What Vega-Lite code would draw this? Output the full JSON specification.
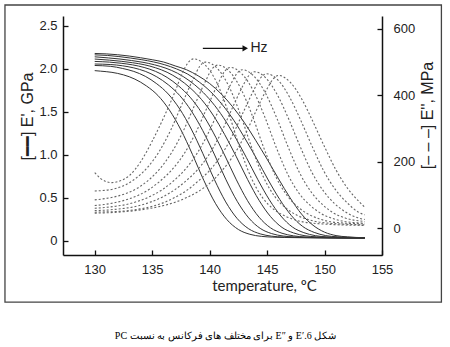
{
"$schema": "https://vega.github.io/schema/vega-lite/v6.json",
"width": 319, "height": 239,
"autosize": {"type": "none"},
"padding": {"left": 63, "top": 16, "right": 68, "bottom": 92},
"background": "white",
"config": {
 "view": {"stroke": null},
 "axis": {"grid": false, "domainColor": "#111", "domainWidth": 1.5, "tickColor": "#111", "tickWidth": 1.3, "tickSize": -5,
  "labelFont": "Liberation Sans", "labelFontSize": 13, "labelColor": "#222", "labelFlush": false,
  "titleFont": "Liberation Sans", "titleFontSize": 16, "titleFontWeight": "normal", "titleColor": "#222"}
},
"title": {"text": "PC برای مختلف های فرکانس به نسبت E″ و E′.6 شکل", "orient": "bottom", "anchor": "middle", "font": "Liberation Serif", "fontSize": 10, "fontWeight": "normal", "color": "#000", "offset": 28, "baseline": "top", "dx": 3},
"datasets": {
"ep": [
{"f":0,"T":130,"v":1.98},{"f":0,"T":130.5,"v":1.974},{"f":0,"T":131.5,"v":1.96},{"f":0,"T":132.5,"v":1.931},{"f":0,"T":133.5,"v":1.881},{"f":0,"T":134.5,"v":1.802},{"f":0,"T":135.5,"v":1.691},{"f":0,"T":136.5,"v":1.521},{"f":0,"T":137.5,"v":1.291},{"f":0,"T":138.5,"v":1.006},{"f":0,"T":139.5,"v":0.701},{"f":0,"T":140.5,"v":0.436},{"f":0,"T":141.5,"v":0.246},{"f":0,"T":142.5,"v":0.131},{"f":0,"T":143.5,"v":0.075},{"f":0,"T":144.5,"v":0.051},{"f":0,"T":145.5,"v":0.042},{"f":0,"T":146.5,"v":0.038},{"f":0,"T":148.5,"v":0.034},{"f":0,"T":153.5,"v":0.03},
{"f":1,"T":130,"v":2.04},{"f":1,"T":131.4,"v":2.03},{"f":1,"T":132.4,"v":2.006},{"f":1,"T":133.4,"v":1.971},{"f":1,"T":134.4,"v":1.914},{"f":1,"T":135.4,"v":1.827},{"f":1,"T":136.4,"v":1.708},{"f":1,"T":137.4,"v":1.533},{"f":1,"T":138.4,"v":1.3},{"f":1,"T":139.4,"v":1.018},{"f":1,"T":140.4,"v":0.716},{"f":1,"T":141.4,"v":0.452},{"f":1,"T":142.4,"v":0.258},{"f":1,"T":143.4,"v":0.139},{"f":1,"T":144.4,"v":0.08},{"f":1,"T":145.4,"v":0.053},{"f":1,"T":146.4,"v":0.043},{"f":1,"T":148.4,"v":0.037},{"f":1,"T":153.5,"v":0.031},
{"f":2,"T":130,"v":2.057},{"f":2,"T":131.4,"v":2.051},{"f":2,"T":132.4,"v":2.037},{"f":2,"T":133.4,"v":2.012},{"f":2,"T":134.4,"v":1.972},{"f":2,"T":135.4,"v":1.908},{"f":2,"T":136.4,"v":1.816},{"f":2,"T":137.4,"v":1.69},{"f":2,"T":138.4,"v":1.513},{"f":2,"T":139.4,"v":1.282},{"f":2,"T":140.4,"v":1.009},{"f":2,"T":141.4,"v":0.717},{"f":2,"T":142.4,"v":0.459},{"f":2,"T":143.4,"v":0.266},{"f":2,"T":144.4,"v":0.144},{"f":2,"T":145.4,"v":0.083},{"f":2,"T":146.4,"v":0.055},{"f":2,"T":147.4,"v":0.044},{"f":2,"T":149.4,"v":0.036},{"f":2,"T":153.5,"v":0.031},
{"f":3,"T":130,"v":2.087},{"f":3,"T":131.3,"v":2.079},{"f":3,"T":132.3,"v":2.066},{"f":3,"T":133.3,"v":2.047},{"f":3,"T":134.3,"v":2.017},{"f":3,"T":135.3,"v":1.971},{"f":3,"T":136.3,"v":1.901},{"f":3,"T":137.3,"v":1.802},{"f":3,"T":138.3,"v":1.671},{"f":3,"T":139.3,"v":1.492},{"f":3,"T":140.3,"v":1.264},{"f":3,"T":141.3,"v":0.998},{"f":3,"T":142.3,"v":0.717},{"f":3,"T":143.3,"v":0.466},{"f":3,"T":144.3,"v":0.274},{"f":3,"T":145.3,"v":0.15},{"f":3,"T":146.3,"v":0.087},{"f":3,"T":147.3,"v":0.057},{"f":3,"T":148.3,"v":0.044},{"f":3,"T":150.3,"v":0.036},{"f":3,"T":153.5,"v":0.032},
{"f":4,"T":130,"v":2.115},{"f":4,"T":131.3,"v":2.102},{"f":4,"T":132.3,"v":2.089},{"f":4,"T":133.3,"v":2.072},{"f":4,"T":134.3,"v":2.049},{"f":4,"T":135.3,"v":2.013},{"f":4,"T":136.3,"v":1.961},{"f":4,"T":137.3,"v":1.884},{"f":4,"T":138.3,"v":1.78},{"f":4,"T":139.3,"v":1.643},{"f":4,"T":140.3,"v":1.463},{"f":4,"T":141.3,"v":1.238},{"f":4,"T":142.3,"v":0.984},{"f":4,"T":143.3,"v":0.714},{"f":4,"T":144.3,"v":0.471},{"f":4,"T":145.3,"v":0.281},{"f":4,"T":146.3,"v":0.155},{"f":4,"T":147.3,"v":0.091},{"f":4,"T":148.3,"v":0.058},{"f":4,"T":149.3,"v":0.045},{"f":4,"T":151.3,"v":0.036},{"f":4,"T":153.5,"v":0.033},
{"f":5,"T":130,"v":2.141},{"f":5,"T":131.2,"v":2.128},{"f":5,"T":132.2,"v":2.115},{"f":5,"T":133.2,"v":2.098},{"f":5,"T":134.2,"v":2.077},{"f":5,"T":135.2,"v":2.048},{"f":5,"T":136.2,"v":2.008},{"f":5,"T":137.2,"v":1.95},{"f":5,"T":138.2,"v":1.866},{"f":5,"T":139.2,"v":1.757},{"f":5,"T":140.2,"v":1.614},{"f":5,"T":141.2,"v":1.433},{"f":5,"T":142.2,"v":1.212},{"f":5,"T":143.2,"v":0.968},{"f":5,"T":144.2,"v":0.71},{"f":5,"T":145.2,"v":0.476},{"f":5,"T":146.2,"v":0.288},{"f":5,"T":147.2,"v":0.16},{"f":5,"T":148.2,"v":0.094},{"f":5,"T":149.2,"v":0.059},{"f":5,"T":150.2,"v":0.045},{"f":5,"T":152.2,"v":0.036},{"f":5,"T":153.5,"v":0.034},
{"f":6,"T":130,"v":2.164},{"f":6,"T":131.1,"v":2.157},{"f":6,"T":132.1,"v":2.144},{"f":6,"T":133.1,"v":2.127},{"f":6,"T":134.1,"v":2.107},{"f":6,"T":135.1,"v":2.082},{"f":6,"T":136.1,"v":2.048},{"f":6,"T":137.1,"v":2.001},{"f":6,"T":138.1,"v":1.939},{"f":6,"T":139.1,"v":1.847},{"f":6,"T":140.1,"v":1.733},{"f":6,"T":141.1,"v":1.584},{"f":6,"T":142.1,"v":1.403},{"f":6,"T":143.1,"v":1.185},{"f":6,"T":144.1,"v":0.952},{"f":6,"T":145.1,"v":0.707},{"f":6,"T":146.1,"v":0.481},{"f":6,"T":147.1,"v":0.295},{"f":6,"T":148.1,"v":0.166},{"f":6,"T":149.1,"v":0.097},{"f":6,"T":150.1,"v":0.06},{"f":6,"T":151.1,"v":0.046},{"f":6,"T":153.5,"v":0.035},
{"f":7,"T":130,"v":2.18},{"f":7,"T":131,"v":2.175},{"f":7,"T":132,"v":2.165},{"f":7,"T":133,"v":2.15},{"f":7,"T":134,"v":2.13},{"f":7,"T":135,"v":2.107},{"f":7,"T":136,"v":2.08},{"f":7,"T":137,"v":2.035},{"f":7,"T":138,"v":1.99},{"f":7,"T":139,"v":1.92},{"f":7,"T":140,"v":1.83},{"f":7,"T":141,"v":1.71},{"f":7,"T":142,"v":1.56},{"f":7,"T":143,"v":1.38},{"f":7,"T":144,"v":1.17},{"f":7,"T":145,"v":0.95},{"f":7,"T":146,"v":0.72},{"f":7,"T":147,"v":0.5},{"f":7,"T":148,"v":0.31},{"f":7,"T":149,"v":0.18},{"f":7,"T":150,"v":0.1},{"f":7,"T":151,"v":0.06},{"f":7,"T":152,"v":0.045},{"f":7,"T":153.5,"v":0.035}
],
"epp": [
{"f":0,"T":130,"v":167},{"f":0,"T":130.5,"v":150},{"f":0,"T":131,"v":140},{"f":0,"T":131.5,"v":137},{"f":0,"T":132,"v":140},{"f":0,"T":133,"v":158},{"f":0,"T":134,"v":200},{"f":0,"T":135,"v":262},{"f":0,"T":136,"v":333},{"f":0,"T":137,"v":412},{"f":0,"T":137.6,"v":465},{"f":0,"T":138.1,"v":497},{"f":0,"T":138.6,"v":510},{"f":0,"T":139.1,"v":505},{"f":0,"T":139.6,"v":492},{"f":0,"T":140.6,"v":440},{"f":0,"T":141.6,"v":352},{"f":0,"T":142.6,"v":245},{"f":0,"T":143.6,"v":153},{"f":0,"T":144.6,"v":92},{"f":0,"T":145.6,"v":56},{"f":0,"T":146.6,"v":36},{"f":0,"T":147.6,"v":23},{"f":0,"T":149.6,"v":13},{"f":0,"T":153.5,"v":8},
{"f":1,"T":130,"v":112},{"f":1,"T":130.65,"v":113},{"f":1,"T":131.65,"v":118},{"f":1,"T":132.65,"v":130},{"f":1,"T":133.65,"v":152},{"f":1,"T":134.65,"v":185},{"f":1,"T":135.65,"v":233},{"f":1,"T":136.65,"v":298},{"f":1,"T":137.65,"v":378},{"f":1,"T":138.65,"v":455},{"f":1,"T":139.15,"v":488},{"f":1,"T":139.65,"v":500},{"f":1,"T":140.65,"v":482},{"f":1,"T":141.65,"v":429},{"f":1,"T":142.65,"v":345},{"f":1,"T":143.65,"v":244},{"f":1,"T":144.65,"v":156},{"f":1,"T":145.65,"v":96},{"f":1,"T":146.65,"v":60},{"f":1,"T":147.65,"v":38},{"f":1,"T":148.65,"v":25},{"f":1,"T":150.65,"v":14},{"f":1,"T":153.5,"v":10},
{"f":2,"T":130,"v":85},{"f":2,"T":130.7,"v":88},{"f":2,"T":131.7,"v":94},{"f":2,"T":132.7,"v":104},{"f":2,"T":133.7,"v":120},{"f":2,"T":134.7,"v":145},{"f":2,"T":135.7,"v":180},{"f":2,"T":136.7,"v":228},{"f":2,"T":137.7,"v":292},{"f":2,"T":138.7,"v":371},{"f":2,"T":139.7,"v":447},{"f":2,"T":140.2,"v":479},{"f":2,"T":140.7,"v":491},{"f":2,"T":141.7,"v":473},{"f":2,"T":142.7,"v":421},{"f":2,"T":143.7,"v":340},{"f":2,"T":144.7,"v":243},{"f":2,"T":145.7,"v":159},{"f":2,"T":146.7,"v":100},{"f":2,"T":147.7,"v":63},{"f":2,"T":148.7,"v":40},{"f":2,"T":149.7,"v":26},{"f":2,"T":151.7,"v":15},{"f":2,"T":153.5,"v":13},
{"f":3,"T":130,"v":68},{"f":3,"T":130.8,"v":71},{"f":3,"T":131.8,"v":77},{"f":3,"T":132.8,"v":86},{"f":3,"T":133.8,"v":99},{"f":3,"T":134.8,"v":118},{"f":3,"T":135.8,"v":145},{"f":3,"T":136.8,"v":179},{"f":3,"T":137.8,"v":225},{"f":3,"T":138.8,"v":288},{"f":3,"T":139.8,"v":365},{"f":3,"T":140.8,"v":440},{"f":3,"T":141.3,"v":472},{"f":3,"T":141.8,"v":484},{"f":3,"T":142.8,"v":465},{"f":3,"T":143.8,"v":414},{"f":3,"T":144.8,"v":335},{"f":3,"T":145.8,"v":243},{"f":3,"T":146.8,"v":162},{"f":3,"T":147.8,"v":104},{"f":3,"T":148.8,"v":67},{"f":3,"T":149.8,"v":42},{"f":3,"T":150.8,"v":28},{"f":3,"T":152.8,"v":16},{"f":3,"T":153.5,"v":15},
{"f":4,"T":130,"v":60},{"f":4,"T":130.85,"v":62},{"f":4,"T":131.85,"v":66},{"f":4,"T":132.85,"v":72},{"f":4,"T":133.85,"v":82},{"f":4,"T":134.85,"v":96},{"f":4,"T":135.85,"v":115},{"f":4,"T":136.85,"v":142},{"f":4,"T":137.85,"v":176},{"f":4,"T":138.85,"v":222},{"f":4,"T":139.85,"v":284},{"f":4,"T":140.85,"v":360},{"f":4,"T":141.85,"v":434},{"f":4,"T":142.35,"v":465},{"f":4,"T":142.85,"v":477},{"f":4,"T":143.85,"v":458},{"f":4,"T":144.85,"v":407},{"f":4,"T":145.85,"v":331},{"f":4,"T":146.85,"v":243},{"f":4,"T":147.85,"v":165},{"f":4,"T":148.85,"v":108},{"f":4,"T":149.85,"v":70},{"f":4,"T":150.85,"v":44},{"f":4,"T":151.85,"v":30},{"f":4,"T":153.5,"v":20},
{"f":5,"T":130,"v":53},{"f":5,"T":130.9,"v":54},{"f":5,"T":131.9,"v":57},{"f":5,"T":132.9,"v":61},{"f":5,"T":133.9,"v":68},{"f":5,"T":134.9,"v":79},{"f":5,"T":135.9,"v":94},{"f":5,"T":136.9,"v":114},{"f":5,"T":137.9,"v":141},{"f":5,"T":138.9,"v":174},{"f":5,"T":139.9,"v":219},{"f":5,"T":140.9,"v":280},{"f":5,"T":141.9,"v":356},{"f":5,"T":142.9,"v":429},{"f":5,"T":143.4,"v":459},{"f":5,"T":143.9,"v":471},{"f":5,"T":144.9,"v":452},{"f":5,"T":145.9,"v":401},{"f":5,"T":146.9,"v":327},{"f":5,"T":147.9,"v":244},{"f":5,"T":148.9,"v":168},{"f":5,"T":149.9,"v":112},{"f":5,"T":150.9,"v":73},{"f":5,"T":151.9,"v":47},{"f":5,"T":152.9,"v":31},{"f":5,"T":153.5,"v":26},
{"f":6,"T":130,"v":48},{"f":6,"T":130.95,"v":49},{"f":6,"T":131.95,"v":50},{"f":6,"T":132.95,"v":53},{"f":6,"T":133.95,"v":58},{"f":6,"T":134.95,"v":65},{"f":6,"T":135.95,"v":76},{"f":6,"T":136.95,"v":92},{"f":6,"T":137.95,"v":112},{"f":6,"T":138.95,"v":140},{"f":6,"T":139.95,"v":172},{"f":6,"T":140.95,"v":216},{"f":6,"T":141.95,"v":277},{"f":6,"T":142.95,"v":351},{"f":6,"T":143.95,"v":423},{"f":6,"T":144.45,"v":453},{"f":6,"T":144.95,"v":465},{"f":6,"T":145.95,"v":446},{"f":6,"T":146.95,"v":395},{"f":6,"T":147.95,"v":323},{"f":6,"T":148.95,"v":244},{"f":6,"T":149.95,"v":171},{"f":6,"T":150.95,"v":116},{"f":6,"T":151.95,"v":77},{"f":6,"T":152.95,"v":48},{"f":6,"T":153.5,"v":40},
{"f":7,"T":130,"v":45},{"f":7,"T":132,"v":48},{"f":7,"T":134,"v":55},{"f":7,"T":136,"v":68},{"f":7,"T":137,"v":78},{"f":7,"T":138,"v":92},{"f":7,"T":139,"v":110},{"f":7,"T":140,"v":135},{"f":7,"T":141,"v":170},{"f":7,"T":142,"v":215},{"f":7,"T":143,"v":275},{"f":7,"T":144,"v":350},{"f":7,"T":145,"v":420},{"f":7,"T":145.5,"v":448},{"f":7,"T":146,"v":460},{"f":7,"T":147,"v":440},{"f":7,"T":148,"v":390},{"f":7,"T":149,"v":320},{"f":7,"T":150,"v":245},{"f":7,"T":151,"v":175},{"f":7,"T":152,"v":120},{"f":7,"T":153,"v":80},{"f":7,"T":153.5,"v":63}
]
},
"layer": [
 {"layer": [
  {"data": {"name": "ep"},
   "mark": {"type": "line", "interpolate": "monotone", "color": "#333", "strokeWidth": 1},
   "encoding": {
    "x": {"field": "T", "type": "quantitative", "scale": {"domain": [127.24, 155], "nice": false, "zero": false},
      "axis": {"values": [130,135,140,145,150,155], "format": "d", "labelPadding": 13, "title": "temperature, ºC", "titleFont": "Lato", "titleFontSize": 15, "titleX": 201, "titleY": 23, "titleAlign": "center", "titleBaseline": "top"}},
    "y": {"field": "v", "type": "quantitative", "scale": {"domain": [-0.166, 2.616], "nice": false, "zero": false},
      "axis": {"values": [0,0.5,1,1.5,2,2.5], "labelExpr": "datum.value == 0 ? '0' : format(datum.value, '.1f')", "labelPadding": 11, "title": "[━━] E', GPa", "titleX": -36, "titleY": 100, "titleAngle": -90, "titleAlign": "center", "titleBaseline": "middle"}},
    "detail": {"field": "f"}
   }},
  {"data": {"values": [{}]},
   "mark": {"type": "rect", "fill": null, "stroke": "#444", "strokeWidth": 1.3, "clip": false},
   "encoding": {
    "x": {"datum": 122.19, "type": "quantitative", "scale": {"domain": [127.24, 155], "nice": false, "zero": false},
      "axis": {"values": [130,135,140,145,150,155], "format": "d", "labelPadding": 13, "title": "temperature, ºC", "titleFont": "Lato", "titleFontSize": 15, "titleX": 201, "titleY": 23, "titleAlign": "center", "titleBaseline": "top"}},
    "x2": {"datum": 160.17},
    "y": {"datum": 2.744, "type": "quantitative", "scale": {"domain": [-0.166, 2.616], "nice": false, "zero": false},
      "axis": {"values": [0,0.5,1,1.5,2,2.5], "labelExpr": "datum.value == 0 ? '0' : format(datum.value, '.1f')", "labelPadding": 11, "title": "[━━] E', GPa", "titleX": -36, "titleY": 100, "titleAngle": -90, "titleAlign": "center", "titleBaseline": "middle"}},
    "y2": {"datum": -0.714}
   }},
  {"data": {"values": [{}]},
   "mark": {"type": "rule", "color": "#111", "strokeWidth": 1.3},
   "encoding": {
    "x": {"datum": 139.41, "type": "quantitative", "scale": {"domain": [127.24, 155], "nice": false, "zero": false},
      "axis": {"values": [130,135,140,145,150,155], "format": "d", "labelPadding": 13, "title": "temperature, ºC", "titleFont": "Lato", "titleFontSize": 15, "titleX": 201, "titleY": 23, "titleAlign": "center", "titleBaseline": "top"}},
    "x2": {"datum": 142.9},
    "y": {"datum": 2.24, "type": "quantitative", "scale": {"domain": [-0.166, 2.616], "nice": false, "zero": false},
      "axis": {"values": [0,0.5,1,1.5,2,2.5], "labelExpr": "datum.value == 0 ? '0' : format(datum.value, '.1f')", "labelPadding": 11, "title": "[━━] E', GPa", "titleX": -36, "titleY": 100, "titleAngle": -90, "titleAlign": "center", "titleBaseline": "middle"}}
   }},
  {"data": {"values": [{}]},
   "mark": {"type": "point", "shape": "triangle-right", "filled": true, "color": "#111", "size": 40, "opacity": 1},
   "encoding": {
    "x": {"datum": 143.1, "type": "quantitative", "scale": {"domain": [127.24, 155], "nice": false, "zero": false},
      "axis": {"values": [130,135,140,145,150,155], "format": "d", "labelPadding": 13, "title": "temperature, ºC", "titleFont": "Lato", "titleFontSize": 15, "titleX": 201, "titleY": 23, "titleAlign": "center", "titleBaseline": "top"}},
    "y": {"datum": 2.24, "type": "quantitative", "scale": {"domain": [-0.166, 2.616], "nice": false, "zero": false},
      "axis": {"values": [0,0.5,1,1.5,2,2.5], "labelExpr": "datum.value == 0 ? '0' : format(datum.value, '.1f')", "labelPadding": 11, "title": "[━━] E', GPa", "titleX": -36, "titleY": 100, "titleAngle": -90, "titleAlign": "center", "titleBaseline": "middle"}}
   }},
  {"data": {"values": [{}]},
   "mark": {"type": "text", "text": "Hz", "align": "left", "baseline": "middle", "font": "Liberation Sans", "fontSize": 14, "color": "#222"},
   "encoding": {
    "x": {"datum": 143.55, "type": "quantitative", "scale": {"domain": [127.24, 155], "nice": false, "zero": false},
      "axis": {"values": [130,135,140,145,150,155], "format": "d", "labelPadding": 13, "title": "temperature, ºC", "titleFont": "Lato", "titleFontSize": 15, "titleX": 201, "titleY": 23, "titleAlign": "center", "titleBaseline": "top"}},
    "y": {"datum": 2.24, "type": "quantitative", "scale": {"domain": [-0.166, 2.616], "nice": false, "zero": false},
      "axis": {"values": [0,0.5,1,1.5,2,2.5], "labelExpr": "datum.value == 0 ? '0' : format(datum.value, '.1f')", "labelPadding": 11, "title": "[━━] E', GPa", "titleX": -36, "titleY": 100, "titleAngle": -90, "titleAlign": "center", "titleBaseline": "middle"}}
   }}
 ]},
 {"data": {"name": "epp"},
  "mark": {"type": "line", "interpolate": "monotone", "color": "#666", "strokeWidth": 1.1, "strokeDash": [2, 2]},
  "encoding": {
   "x": {"field": "T", "type": "quantitative", "scale": {"domain": [127.24, 155], "nice": false, "zero": false},
      "axis": {"values": [130,135,140,145,150,155], "format": "d", "labelPadding": 13, "title": "temperature, ºC", "titleFont": "Lato", "titleFontSize": 15, "titleX": 201, "titleY": 23, "titleAlign": "center", "titleBaseline": "top"}},
   "y": {"field": "v", "type": "quantitative", "scale": {"domain": [-81, 639], "nice": false, "zero": false},
     "axis": {"orient": "right", "values": [0,200,400,600], "labelPadding": 16, "title": "[– – –] E'', MPa", "titleX": 45, "titleY": 99, "titleAngle": -90, "titleAlign": "center", "titleBaseline": "middle"}},
   "detail": {"field": "f"}
  }}
],
"resolve": {"scale": {"y": "independent"}}
}
